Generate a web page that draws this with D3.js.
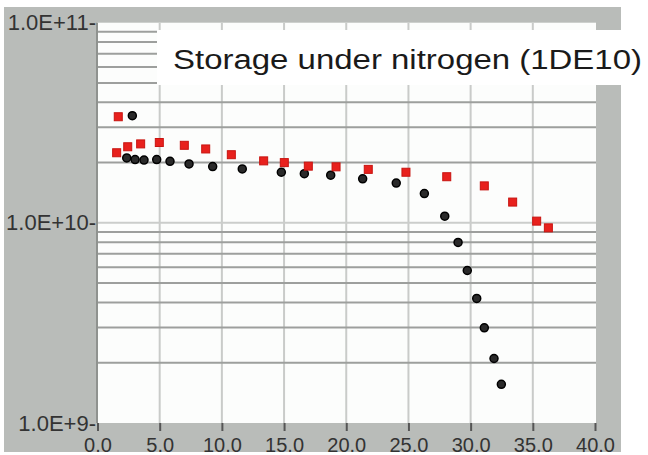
<!DOCTYPE html>
<html>
<head>
<meta charset="utf-8">
<script src="https://cdn.jsdelivr.net/npm/d3@7/dist/d3.min.js"></script>
<style>
  html, body { margin: 0; padding: 0; background: #ffffff; }
  svg { display: block; }
</style>
</head>
<body>
<svg id="chart" width="648" height="455"></svg>
<script>
// ---- data ----
const title = "Storage under nitrogen (1DE10)";
const xTickValues = [0, 5, 10, 15, 20, 25, 30, 35, 40];
const xTickLabels = ["0.0", "5.0", "10.0", "15.0", "20.0", "25.0", "30.0", "35.0", "40.0"];
const yTickValues = [1e9, 1e10, 1e11];
const yTickLabels = ["1.0E+9-", "1.0E+10-", "1.0E+11-"];

const redX = [1.67, 1.54, 2.43, 3.47, 4.97, 6.98, 8.70, 10.76, 13.36, 15.02, 16.95, 19.18, 21.77, 24.80, 28.08, 31.10, 33.38, 35.31, 36.25];
const redY = [3.39e10, 2.24e10, 2.40e10, 2.48e10, 2.52e10, 2.44e10, 2.34e10, 2.19e10, 2.04e10, 2.00e10, 1.92e10, 1.905e10, 1.85e10, 1.79e10, 1.70e10, 1.53e10, 1.27e10, 1.02e10, 9.44e9];

const blackX = [2.80, 2.35, 3.02, 3.74, 4.76, 5.83, 7.36, 9.26, 11.64, 14.78, 16.63, 18.75, 21.32, 24.02, 26.28, 27.92, 28.99, 29.73, 30.49, 31.10, 31.88, 32.47];
const blackY = [3.43e10, 2.11e10, 2.07e10, 2.06e10, 2.07e10, 2.03e10, 1.97e10, 1.91e10, 1.86e10, 1.79e10, 1.76e10, 1.73e10, 1.66e10, 1.58e10, 1.40e10, 1.08e10, 7.98e9, 5.78e9, 4.19e9, 2.99e9, 2.10e9, 1.56e9];

// ---- layout ----
const svg = d3.select("#chart");
const L = 97, R = 596, T = 22.7, B = 423;

const x = d3.scaleLinear().domain([0, 40]).range([L + 0.5, R - 1]);
const y = d3.scaleLog().domain([1e9, 1e11]).range([B, T]);

// outer gray panel
svg.append("rect").attr("x", 4).attr("y", 7).attr("width", 617).attr("height", 445)
  .attr("fill", "#b9bcb9");

// plot area
svg.append("rect").attr("x", L).attr("y", T).attr("width", R - L).attr("height", B - T)
  .attr("fill", "#fcfdfc");

const grid = svg.append("g");
// vertical gridlines
grid.selectAll("line.v").data(xTickValues.filter(d => d > 0 && d < 40)).join("line")
  .attr("x1", d => x(d)).attr("x2", d => x(d)).attr("y1", T).attr("y2", B)
  .attr("stroke", "#c9cbc9").attr("stroke-width", 2);
// horizontal gridlines (log minor + major)
const allY = y.ticks();
grid.selectAll("line.h").data(allY.filter(d => d > 1e9 && d < 1e11)).join("line")
  .attr("x1", L + 1).attr("x2", R).attr("y1", d => y(d)).attr("y2", d => y(d))
  .attr("stroke", d => (Math.abs(Math.log10(d) - Math.round(Math.log10(d))) < 1e-9) ? "#cbcdcb" : "#9d9f9d")
  .attr("stroke-width", 2);

// plot frame left
svg.append("line").attr("x1", L).attr("x2", L).attr("y1", T).attr("y2", B)
  .attr("stroke", "#8f928f").attr("stroke-width", 2);

// x axis
const xAxis = svg.append("g").attr("transform", `translate(0,${B})`)
  .call(d3.axisBottom(x).tickValues(xTickValues).tickFormat((d, i) => xTickLabels[i]).tickSize(8).tickPadding(7));
xAxis.select(".domain").remove();
xAxis.selectAll(".tick line").attr("stroke", "#555").attr("stroke-width", 2);
xAxis.selectAll(".tick text").attr("fill", "#333")
  .style("font-family", "'Liberation Sans', Arial, sans-serif").style("font-size", "20px");

// y axis
const yAxis = svg.append("g").attr("transform", `translate(${L - 1},0)`)
  .call(d3.axisLeft(y).tickValues(yTickValues).tickFormat((d, i) => yTickLabels[i]).tickSize(0).tickPadding(0));
yAxis.select(".domain").remove();
yAxis.selectAll(".tick text").attr("fill", "#333")
  .style("font-family", "'Liberation Sans', Arial, sans-serif").style("font-size", "22px");

// points
const blackData = blackX.map((v, i) => ({ x: v, y: blackY[i] }));
const redData = redX.map((v, i) => ({ x: v, y: redY[i] }));

svg.append("g").selectAll("circle").data(blackData).join("circle")
  .attr("cx", d => x(d.x)).attr("cy", d => y(d.y)).attr("r", 4)
  .attr("fill", "#2a2a2a").attr("stroke", "#000").attr("stroke-width", 1.5);

const s = 8;
svg.append("g").selectAll("rect").data(redData).join("rect")
  .attr("x", d => x(d.x) - s / 2).attr("y", d => y(d.y) - s / 2)
  .attr("width", s).attr("height", s)
  .attr("fill", "#e8211d").attr("stroke", "#c81410").attr("stroke-width", 1);

// title box
svg.append("rect").attr("x", 157).attr("y", 30).attr("width", 491).attr("height", 55)
  .attr("fill", "#ffffff");
svg.append("text").attr("x", 173).attr("y", 68.5)
  .attr("textLength", 469).attr("lengthAdjust", "spacingAndGlyphs")
  .attr("fill", "#1a1a1a")
  .style("font-family", "'Liberation Sans', Arial, sans-serif").style("font-size", "27px")
  .text(title);
</script>
</body>
</html>
